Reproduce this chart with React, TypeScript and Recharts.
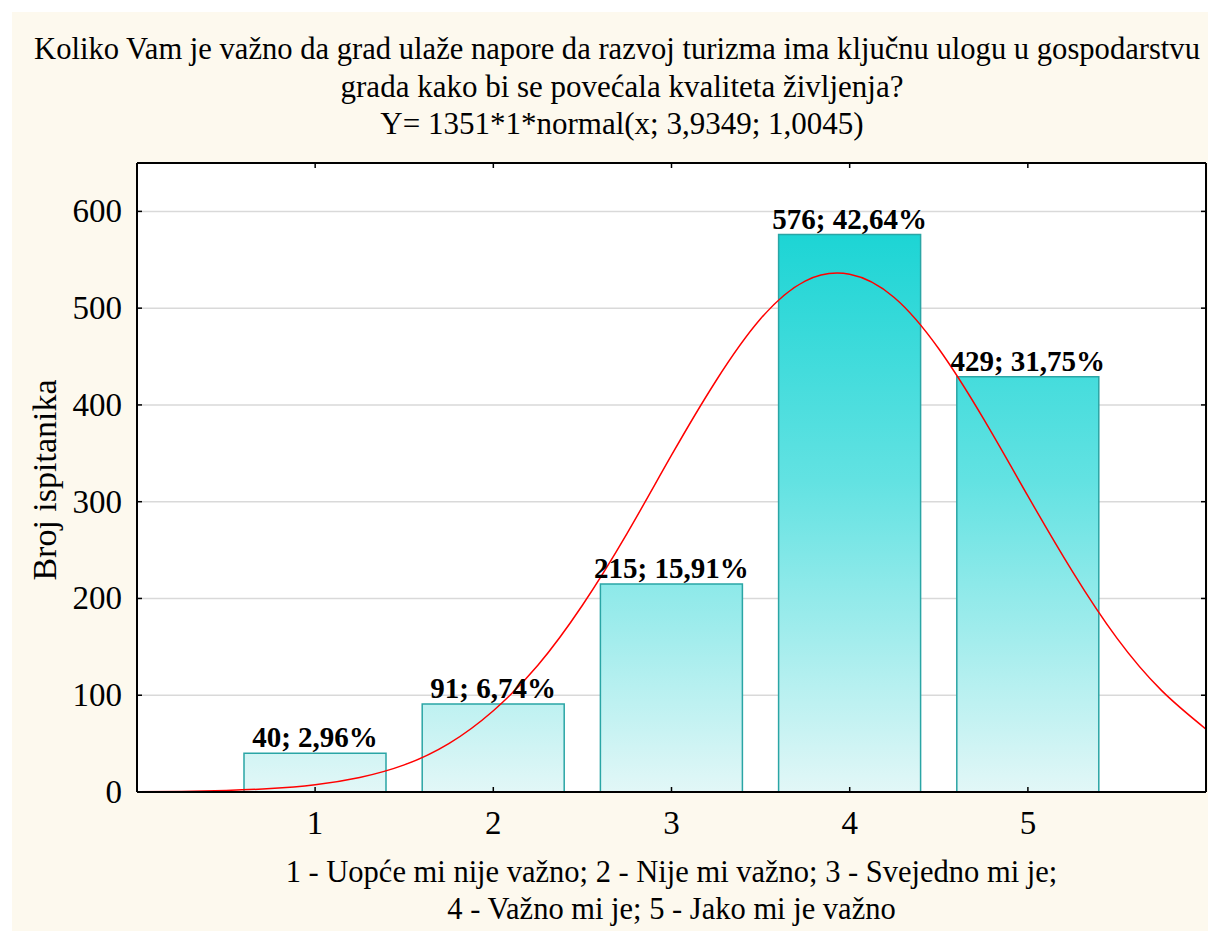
import React from "react";
import {
  ComposedChart,
  Bar,
  Line,
  XAxis,
  YAxis,
  CartesianGrid,
  LabelList,
} from "recharts";

// Bars: response categories and counts
const categories = [1, 2, 3, 4, 5];
const counts = [40, 91, 215, 576, 429];
const percents = ["2,96%", "6,74%", "15,91%", "42,64%", "31,75%"];

// Fitted normal curve
const curveX = [0, 0.25, 0.5, 0.75, 1, 1.25, 1.5, 1.75, 2, 2.25, 2.5, 2.75, 3, 3.25, 3.5, 3.75, 4, 4.25, 4.5, 4.75, 5, 5.25, 5.5, 5.75, 6];
const curveY = [0.3, 0.6, 1.6, 3.5, 7.5, 15, 28, 50, 84, 131, 193, 267, 348, 425, 489, 528, 535, 511, 458, 386, 306, 228, 159, 105, 65];

const yTicks = [0, 100, 200, 300, 400, 500, 600];
const topTicks = [0, 1, 2, 3, 4, 5, 6];

const titleLines = [
  "Koliko Vam je važno da grad ulaže napore da razvoj turizma ima ključnu ulogu u gospodarstvu",
  "grada kako bi se povećala kvaliteta življenja?",
  "Y= 1351*1*normal(x; 3,9349; 1,0045)",
];
const xLabelLines = [
  "1 - Uopće mi nije važno; 2 - Nije mi važno; 3 - Svejedno mi je;",
  "4 - Važno mi je; 5 - Jako mi je važno",
];
const yLabel = "Broj ispitanika";

const barData = categories.map((c, i) => ({ x: c, count: counts[i], pct: percents[i] }));
const curveData = curveX.map((x, i) => ({ x, fit: curveY[i] }));

const FONT = "'Liberation Serif', 'Times New Roman', serif";

const BottomTick = (props: any) => {
  const { x, y, payload } = props;
  return (
    <g>
      <line x1={x} x2={x} y1={y} y2={y - 5} stroke="#000" strokeWidth={1.5} />
      <text x={x} y={y + 42} textAnchor="middle" fontFamily={FONT} fontSize={33} fill="#000">
        {payload.value}
      </text>
    </g>
  );
};

const LeftTick = (props: any) => {
  const { x, y, payload } = props;
  return (
    <g>
      <line x1={x} x2={x + 5} y1={y} y2={y} stroke="#000" strokeWidth={1.5} />
      <text x={x - 15} y={y + 11} textAnchor="end" fontFamily={FONT} fontSize={33} fill="#000">
        {payload.value}
      </text>
    </g>
  );
};

const TopTick = (props: any) => {
  const { x, y } = props;
  return <line x1={x} x2={x} y1={y} y2={y + 5} stroke="#000" strokeWidth={1.5} />;
};

const RightTick = (props: any) => {
  const { x, y } = props;
  return <line x1={x} x2={x - 5} y1={y} y2={y} stroke="#000" strokeWidth={1.5} />;
};

const renderBarLabel = (props: any) => {
  const { x, y, width, index } = props;
  return (
    <text
      x={x + width / 2}
      y={y - 6}
      textAnchor="middle"
      fontFamily={FONT}
      fontWeight="bold"
      fontSize={29}
      fill="#000"
    >
      {`${counts[index]}; ${percents[index]}`}
    </text>
  );
};

export default function App() {
  return (
    <div style={{ position: "absolute", left: 0, top: 0, width: 1208, height: 931, background: "#fff", overflow: "hidden" }}>
      <div style={{ position: "absolute", left: 12, top: 12, width: 1196, height: 919, background: "#fdf9ee" }} />
      <div style={{ position: "absolute", left: 0, top: 0 }}>
        <ComposedChart
          width={1208}
          height={931}
          data={barData}
          margin={{ top: 153, right: 0, bottom: 99, left: 77 }}
        >
          <defs>
            <linearGradient id="barGrad" gradientUnits="userSpaceOnUse" x1="0" y1="225" x2="0" y2="792">
              <stop offset="0%" stopColor="#1ad4d4" />
              <stop offset="45%" stopColor="#62e2e2" />
              <stop offset="100%" stopColor="#e2f7f7" />
            </linearGradient>
          </defs>
          <CartesianGrid vertical={false} stroke="#d9d9d9" strokeWidth={1.5} fill="#ffffff" xAxisId="b" yAxisId="l" />
          <XAxis
            xAxisId="b"
            dataKey="x"
            type="category"
            padding={{ left: 89, right: 89 }}
            height={40}
            tickSize={0}
            tickMargin={0}
            tick={<BottomTick />}
            axisLine={{ stroke: "#000", strokeWidth: 2 }}
            tickLine={false}
            interval={0}
          />
          <XAxis
            xAxisId="t"
            orientation="top"
            dataKey="x"
            type="number"
            domain={[0, 6]}
            ticks={topTicks}
            allowDataOverflow
            height={10}
            tickSize={0}
            tickMargin={0}
            tick={<TopTick />}
            axisLine={{ stroke: "#000", strokeWidth: 2 }}
            tickLine={false}
            interval={0}
          />
          <YAxis
            yAxisId="l"
            type="number"
            domain={[0, 650]}
            ticks={yTicks}
            allowDataOverflow
            width={60}
            tickSize={0}
            tickMargin={0}
            tick={<LeftTick />}
            axisLine={{ stroke: "#000", strokeWidth: 2 }}
            tickLine={false}
            interval={0}
          />
          <YAxis
            yAxisId="r"
            orientation="right"
            type="number"
            domain={[0, 650]}
            ticks={yTicks}
            allowDataOverflow
            width={2}
            tickSize={0}
            tickMargin={0}
            tick={<RightTick />}
            axisLine={{ stroke: "#000", strokeWidth: 2 }}
            tickLine={false}
            interval={0}
          />
          <Bar
            xAxisId="b"
            yAxisId="l"
            dataKey="count"
            barSize={142}
            fill="url(#barGrad)"
            stroke="#2aa5a5"
            strokeWidth={1.5}
            isAnimationActive={false}
          >
            <LabelList dataKey="count" content={renderBarLabel} />
          </Bar>
          <Line
            xAxisId="t"
            yAxisId="l"
            data={curveData}
            dataKey="fit"
            type="natural"
            stroke="#ff0000"
            strokeWidth={1.5}
            dot={false}
            activeDot={false}
            isAnimationActive={false}
          />
        </ComposedChart>
      </div>
      <div
        style={{
          position: "absolute",
          left: 22,
          width: 1200,
          top: 31,
          textAlign: "center",
          fontFamily: FONT,
          fontSize: 31,
          lineHeight: "37px",
          color: "#000",
          whiteSpace: "nowrap",
        }}
      >
        {titleLines.map((t, i) => (
          <div key={i} style={i === 0 ? { fontSize: 30.6, marginLeft: -10 } : undefined}>{t}</div>
        ))}
      </div>
      <div
        style={{
          position: "absolute",
          left: 137,
          width: 1069,
          top: 854,
          textAlign: "center",
          fontFamily: FONT,
          fontSize: 30.5,
          lineHeight: "37px",
          color: "#000",
          whiteSpace: "nowrap",
        }}
      >
        {xLabelLines.map((t, i) => (
          <div key={i}>{t}</div>
        ))}
      </div>
      <div
        style={{
          position: "absolute",
          left: 45,
          top: 480,
          transform: "translate(-50%, -50%) rotate(-90deg)",
          fontFamily: FONT,
          fontSize: 34,
          color: "#000",
          whiteSpace: "nowrap",
        }}
      >
        {yLabel}
      </div>
    </div>
  );
}
